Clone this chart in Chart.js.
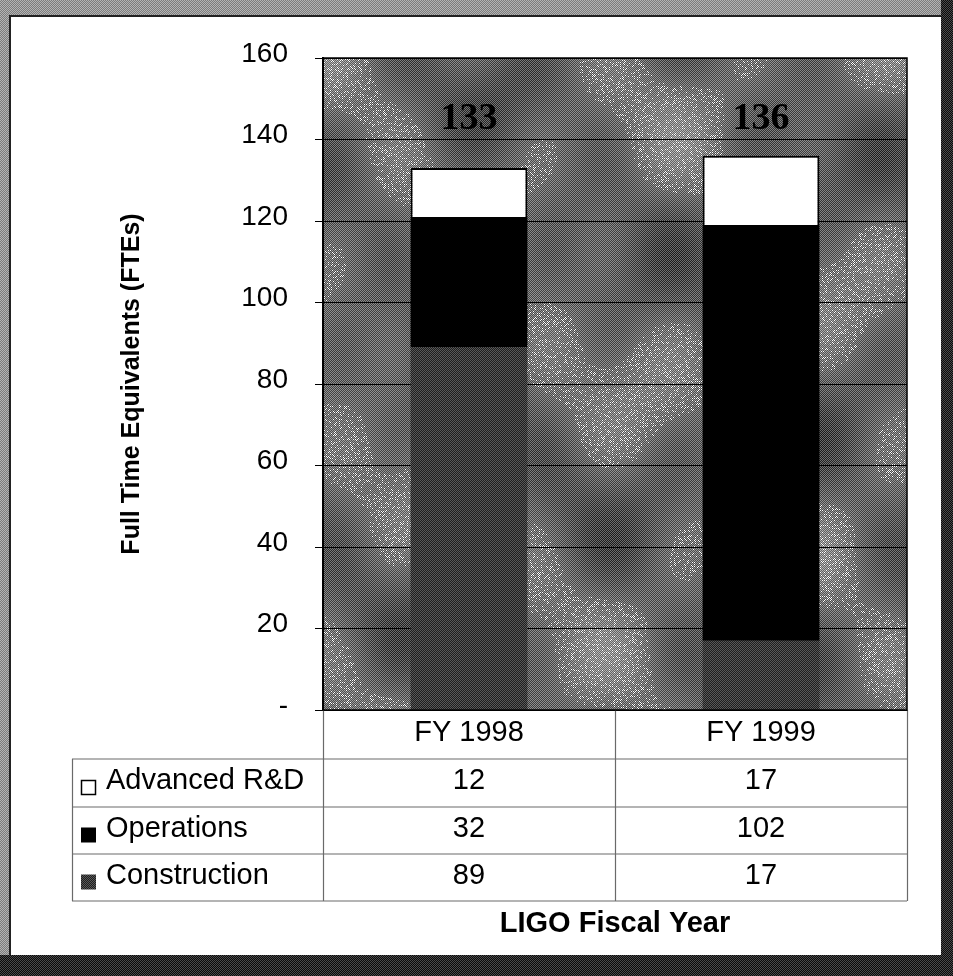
<!DOCTYPE html>
<html>
<head>
<meta charset="utf-8">
<script src="https://cdn.jsdelivr.net/npm/chart.js@4.4.1/dist/chart.umd.min.js"></script>
<style>
html,body{margin:0;padding:0;background:#fff;}
#wrap{width:953px;height:976px;position:relative;}
canvas{display:block;}
</style>
</head>
<body>
<div id="wrap"><canvas id="c" width="953" height="976"></canvas></div>
<script>
// ---- data ----
const categories = ['FY 1998', 'FY 1999'];
const seriesNames = ['Advanced R&D', 'Operations', 'Construction'];
const advancedRD = [12, 17];
const operations = [32, 102];
const construction = [89, 17];
const yTicks = [0, 20, 40, 60, 80, 100, 120, 140, 160];
const totals = categories.map((_, i) => advancedRD[i] + operations[i] + construction[i]);
const totalLabelLevel = 145;

// ---- textures (decoration only) ----
const canvas = document.getElementById('c');
const mainCtx = canvas.getContext('2d');

function checkerTile(a, b) {
  const t = document.createElement('canvas'); t.width = 2; t.height = 2;
  const g = t.getContext('2d');
  g.fillStyle = a; g.fillRect(0, 0, 2, 2);
  g.fillStyle = b; g.fillRect(0, 0, 1, 1); g.fillRect(1, 1, 1, 1);
  return mainCtx.createPattern(t, 'repeat');
}
const constructionFill = checkerTile('#1e1e1e', '#585858');
const frameLight = checkerTile('#7c7c7c', '#b4b4b4');
const frameDark = checkerTile('#0a0a0a', '#4a4a4a');

function makeBgTexture(w, h) {
  const c = document.createElement('canvas'); c.width = w; c.height = h;
  const g = c.getContext('2d');
  const im = g.createImageData(w, h); const d = im.data;
  for (let y = 0; y < h; y++) {
    for (let x = 0; x < w; x++) {
      let v = 104 + 18 * Math.sin(x * 0.045 + 1.3) * Math.cos(y * 0.031 + 0.4)
                 + 14 * Math.sin((x - y) * 0.021 + 2.1)
                 + 10 * Math.cos((x + 2 * y) * 0.013);
      v += ((x + y) & 1) ? 40 : -40;
      const hsh = (Math.imul(x, 73856093) ^ Math.imul(y, 19349663)) >>> 0;
      if (v > 150 && (hsh % 5) === 0) v = 255;
      v = Math.max(0, Math.min(255, v));
      const i = (y * w + x) * 4;
      d[i] = d[i + 1] = d[i + 2] = v; d[i + 3] = 255;
    }
  }
  g.putImageData(im, 0, 0);
  return c;
}
let bgTex = null;

const FONT = "'Liberation Sans', Arial, sans-serif";

// ---- plugins ----
const framePlugin = {
  id: 'frame',
  beforeDraw(chart) {
    const { ctx, chartArea: a, width, height } = chart;
    ctx.save();
    ctx.fillStyle = frameLight; ctx.fillRect(0, 0, width, height);
    ctx.fillStyle = frameDark;
    ctx.fillRect(941, 0, width - 941, height);
    ctx.fillRect(0, 955, width, height - 955);
    ctx.fillStyle = '#ffffff'; ctx.fillRect(10, 16, 931, 939);
    ctx.strokeStyle = '#222'; ctx.lineWidth = 2;
    ctx.beginPath(); ctx.moveTo(10, 955); ctx.lineTo(10, 16); ctx.lineTo(941, 16); ctx.stroke();
    const w = Math.round(a.right - a.left), h = Math.round(a.bottom - a.top);
    if (!bgTex || bgTex.width !== w || bgTex.height !== h) bgTex = makeBgTexture(w, h);
    ctx.drawImage(bgTex, Math.round(a.left), Math.round(a.top));
    ctx.restore();
  }
};

const totalsPlugin = {
  id: 'totals',
  afterDatasetsDraw(chart) {
    const { ctx, scales: { y } } = chart;
    const meta = chart.getDatasetMeta(0);
    ctx.save();
    ctx.fillStyle = '#000';
    ctx.font = "bold 38px 'Liberation Serif', 'Times New Roman', serif";
    ctx.textAlign = 'center'; ctx.textBaseline = 'middle';
    meta.data.forEach((bar, i) => {
      ctx.fillText(String(totals[i]), bar.x, y.getPixelForValue(totalLabelLevel));
    });
    ctx.restore();
  }
};

const tablePlugin = {
  id: 'dataTable',
  afterDraw(chart) {
    const { ctx, chartArea: a, scales: { x } } = chart;
    const rowH = [49, 48, 47, 47];
    const legendLeft = 72;
    const n = categories.length;
    const colW = (a.right - a.left) / n;
    const rows = [
      { name: seriesNames[0], values: advancedRD, fill: '#ffffff', stroke: true },
      { name: seriesNames[1], values: operations, fill: '#000000', stroke: false },
      { name: seriesNames[2], values: construction, fill: constructionFill, stroke: false }
    ];
    const ys = [a.bottom];
    rowH.forEach(h => ys.push(ys[ys.length - 1] + h));

    ctx.save();
    ctx.strokeStyle = '#6a6a6a'; ctx.lineWidth = 1.2;
    ctx.beginPath();
    for (let r = 1; r < ys.length; r++) {
      ctx.moveTo(legendLeft, ys[r]); ctx.lineTo(a.right, ys[r]);
    }
    for (let c = 0; c <= n; c++) {
      const xx = Math.round(a.left + c * colW) + 0.5;
      ctx.moveTo(xx, ys[0]); ctx.lineTo(xx, ys[ys.length - 1]);
    }
    ctx.moveTo(legendLeft + 0.5, ys[1]); ctx.lineTo(legendLeft + 0.5, ys[ys.length - 1]);
    ctx.stroke();

    ctx.fillStyle = '#000';
    ctx.font = '29px ' + FONT;
    ctx.textBaseline = 'middle';
    ctx.textAlign = 'center';
    categories.forEach((cat, i) => {
      ctx.fillText(cat, x.getPixelForValue(i), (ys[0] + ys[1]) / 2 - 2);
    });
    rows.forEach((row, r) => {
      const cy = (ys[r + 1] + ys[r + 2]) / 2;
      ctx.textAlign = 'center';
      ctx.fillStyle = '#000';
      row.values.forEach((v, i) => ctx.fillText(String(v), x.getPixelForValue(i), cy - 2));
      ctx.fillStyle = row.fill;
      ctx.fillRect(81, cy - 3, 15, 15);
      if (row.stroke) {
        ctx.strokeStyle = '#000'; ctx.lineWidth = 1.5;
        ctx.strokeRect(81.5, cy - 2.5, 14, 14);
      }
      ctx.fillStyle = '#000';
      ctx.textAlign = 'left';
      ctx.fillText(row.name, 106, cy - 2);
    });

    ctx.strokeStyle = '#000'; ctx.lineWidth = 1.5;
    ctx.strokeRect(a.left, a.top, a.right - a.left, a.bottom - a.top);
    ctx.restore();
  }
};

// ---- chart ----
new Chart(canvas, {
  type: 'bar',
  data: {
    labels: categories,
    datasets: [
      { label: seriesNames[2], data: construction, backgroundColor: constructionFill, borderWidth: 0 },
      { label: seriesNames[1], data: operations, backgroundColor: '#000000', borderWidth: 0 },
      { label: seriesNames[0], data: advancedRD, backgroundColor: '#ffffff', borderColor: '#000000', borderWidth: 2 }
    ]
  },
  options: {
    responsive: false,
    animation: false,
    devicePixelRatio: 1,
    layout: { padding: { top: 58, right: 46, bottom: 0, left: 0 } },
    datasets: { bar: { categoryPercentage: 1.0, barPercentage: 0.40 } },
    plugins: { legend: { display: false }, tooltip: { enabled: false }, title: { display: false } },
    scales: {
      x: {
        stacked: true,
        grid: { display: false },
        border: { display: false },
        ticks: { display: false },
        title: {
          display: true, text: 'LIGO Fiscal Year', color: '#000',
          font: { family: FONT, size: 29, weight: 'bold' },
          padding: { top: 0, bottom: 35 }
        },
        afterFit(s) { s.height = 266; }
      },
      y: {
        stacked: true,
        min: 0, max: 160,
        afterBuildTicks(s) { s.ticks = yTicks.map(v => ({ value: v })); },
        grid: { color: '#000', lineWidth: 1, tickLength: 8, tickColor: '#000' },
        border: { display: true, color: '#000', width: 2 },
        ticks: {
          color: '#000', padding: 27, labelOffset: -4,
          font: { family: FONT, size: 28 },
          callback: v => (v === 0 ? '-' : String(v))
        },
        title: {
          display: true, text: 'Full Time Equivalents (FTEs)', color: '#000',
          font: { family: FONT, size: 25, weight: 'bold' },
          padding: { top: 117, bottom: 0 }
        },
        afterFit(s) { s.width = 323; }
      }
    }
  },
  plugins: [framePlugin, totalsPlugin, tablePlugin]
});
</script>
</body>
</html>
